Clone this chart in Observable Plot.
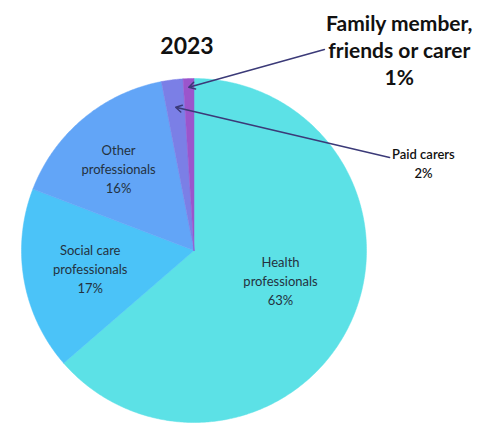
<!DOCTYPE html>
<html><head><meta charset="utf-8">
<script src="https://cdn.jsdelivr.net/npm/d3@7"></script>
<script src="https://cdn.jsdelivr.net/npm/@observablehq/plot@0.6"></script>
<style>body{margin:0;background:#fff;font-family:Lato,sans-serif}#chart svg{display:block}</style>
</head><body><div id="chart"></div>
<script>
const categories = ["Health professionals", "Social care professionals", "Other professionals", "Paid carers", "Family member, friends or carer"];
const labelLines = ["Health\nprofessionals", "Social care\nprofessionals", "Other\nprofessionals", "Paid carers", "Family member,\nfriends or carer"];
const shares = [63, 17, 16, 2, 1];
const colors = ["#5ce1e6", "#4bc3f8", "#62a5f7", "#7b7fe6", "#9b55cc"];
const title = "2023";

// layout of labels (not data)
const insideRadius = [0.53, 0.61, 0.65];
const insideAngleShift = [-0.1, 0.01, -0.04];
const outside = {
  3: {tx: 1.33, ty: 0.51, ax: 1.134, ay: 0.541, r: 0.84, size: 13, weight: 600, lh: 1.45},
  4: {tx: 1.19, ty: 1.17, ax: 0.756, ay: 1.169, r: 0.95, size: 21, weight: 700, lh: 1.3}
};

const arcs = d3.pie().sort(null).value(d => d)(shares);
const pts = [];
arcs.forEach((p, i) => {
  const n = Math.max(2, Math.ceil((p.endAngle - p.startAngle) / 0.01));
  pts.push({cat: categories[i], x: 0, y: 0});
  for (let k = 0; k <= n; k++) {
    const a = p.startAngle + (p.endAngle - p.startAngle) * k / n;
    pts.push({cat: categories[i], x: Math.sin(a), y: Math.cos(a)});
  }
  pts.push({cat: categories[i], x: 0, y: 0});
});
const mid = p => (p.startAngle + p.endAngle) / 2;

const inside = arcs.slice(0, 3).map((p, i) => {
  const a = mid(p) + insideAngleShift[i], r = insideRadius[i];
  return {x: r * Math.sin(a), y: r * Math.cos(a), text: labelLines[i] + "\n" + shares[i] + "%"};
});
const outsideLabels = [3, 4].map(i => {
  const o = outside[i], p = arcs[i], a = mid(p);
  return {i, x: o.tx, y: o.ty, text: labelLines[i] + "\n" + shares[i] + "%",
    x1: o.ax, y1: o.ay, x2: o.r * Math.sin(a), y2: o.r * Math.cos(a), size: o.size, weight: o.weight, lh: o.lh};
});

const chart = Plot.plot({
  width: 485, height: 423,
  marginLeft: 21, marginRight: 119, marginTop: 78, marginBottom: 1,
  style: {fontFamily: "Lato, sans-serif", background: "#fff"},
  x: {domain: [-1, 1], axis: null},
  y: {domain: [-1, 1], axis: null},
  color: {domain: categories, range: colors},
  marks: [
    Plot.line(pts, {x: "x", y: "y", z: "cat", fill: "cat", stroke: "cat", strokeWidth: 0.5, curve: "linear"}),
    Plot.text(inside, {x: "x", y: "y", text: "text", fontSize: 13, lineHeight: 1.45, fill: "#243240"}),
    ...outsideLabels.map(d => Plot.arrow([d], {x1: "x1", y1: "y1", x2: "x2", y2: "y2", stroke: "#3b3a78", strokeWidth: 1.5, headLength: 7, bend: 0})),
    ...outsideLabels.map(d => Plot.text([d], {x: "x", y: "y", text: "text", fontSize: d.size, fontWeight: d.weight, lineHeight: d.lh, fill: "#111"})),
    Plot.text([title], {frameAnchor: "top", lineAnchor: "middle", text: d => d, dx: -7, dy: -32, fontSize: 23, fontWeight: 700, fill: "#111"})
  ]
});
document.getElementById("chart").appendChild(chart);
</script></body></html>
